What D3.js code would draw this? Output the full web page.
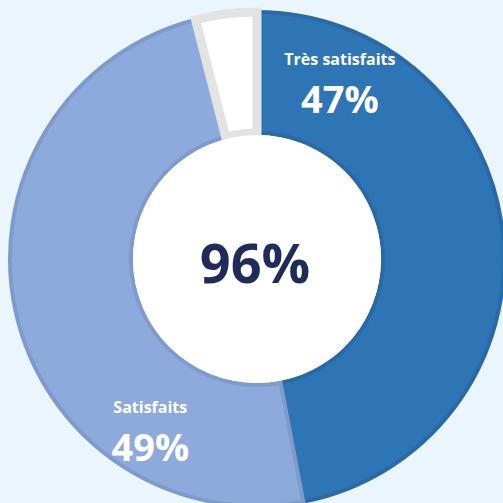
<!DOCTYPE html>
<html><head><meta charset="utf-8">
<script src="https://cdn.jsdelivr.net/npm/d3@7"></script>
<style>html,body{margin:0;padding:0;background:#eaf5fd;}svg{display:block;}</style>
</head><body>
<svg id="c" width="503" height="503"></svg>
<script>
const categories = ["Très satisfaits", "Satisfaits", "Insatisfaits"];
const values = [47, 49, 4];
const labelTexts = ["47%", "49%", ""];
const centerLabel = "96%";

const fills = ["#2e75b6", "#8ea9db", "#ffffff"];
const strokes = ["#2b69a5", "#7f9bcb", "#e3e3e3"];
const strokeW = [4, 4, 9];

const svg = d3.select("#c");
svg.append("rect").attr("width", 503).attr("height", 503).attr("fill", "#eaf5fd");
const cx = 257, cy = 259, rOuter = 247, rInner = 126;
const g = svg.append("g").attr("transform", `translate(${cx},${cy})`);

const pie = d3.pie().sort(null).value(d => d.v);
const data = pie(categories.map((c, i) => ({c, v: values[i], i})));
const arc = d3.arc().innerRadius(rInner).outerRadius(rOuter);

g.selectAll("path").data(data).join("path")
  .attr("d", arc)
  .attr("fill", d => fills[d.data.i])
  .attr("stroke", d => strokes[d.data.i])
  .attr("stroke-width", d => strokeW[d.data.i])
  .attr("stroke-linejoin", "miter");

g.append("circle").attr("r", rInner - 2).attr("fill", "#ffffff");

// labels placed by polar offset
const labelPos = [{a: 26.3, r: 187}, {a: 210.7, r: 209}];
const font = "'Open Sans', 'DejaVu Sans', sans-serif";
labelPos.forEach((p, i) => {
  const rad = p.a * Math.PI / 180;
  const x = Math.sin(rad) * p.r, y = -Math.cos(rad) * p.r;
  g.append("text").attr("x", x).attr("y", y - 26)
    .attr("text-anchor", "middle").attr("fill", "#ffffff")
    .attr("font-family", font).attr("font-weight", 700).attr("font-size", 16)
    .text(categories[i]);
  g.append("text").attr("x", x).attr("y", y + 22)
    .attr("text-anchor", "middle").attr("fill", "#ffffff")
    .attr("font-family", font).attr("font-weight", 700).attr("font-size", 38)
    .text(labelTexts[i]);
});

g.append("text").attr("x", -2).attr("y", 24)
  .attr("text-anchor", "middle").attr("fill", "#1f2b5b")
  .attr("font-family", font).attr("font-weight", 700).attr("font-size", 54)
  .text(centerLabel);
</script>
</body></html>
